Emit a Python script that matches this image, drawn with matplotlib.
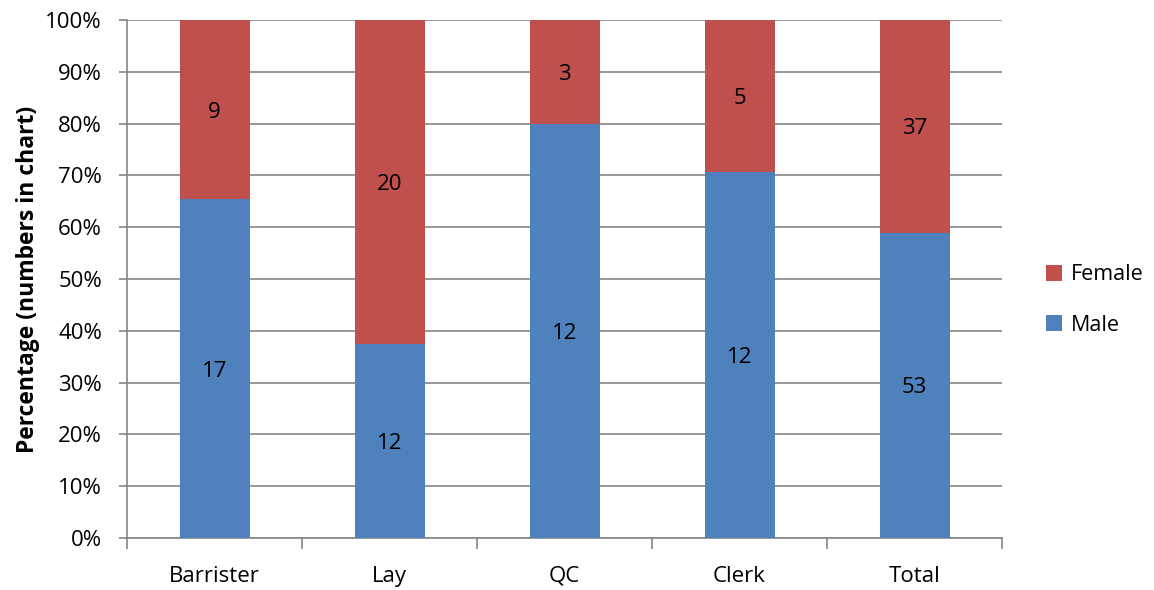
import matplotlib
matplotlib.use("Agg")
import matplotlib.pyplot as plt
from matplotlib.patches import Patch
import numpy as np

categories = ["Barrister", "Lay", "QC", "Clerk", "Total"]
male = [17, 12, 12, 12, 53]
female = [9, 20, 3, 5, 37]
y_ticks = [0, 10, 20, 30, 40, 50, 60, 70, 80, 90, 100]

plt.rcParams["font.family"] = ["Open Sans", "DejaVu Sans"]

male_c = "#4F81BD"
female_c = "#C0504D"
grid_c = "#868686"
fs = 16

fig = plt.figure(figsize=(11.54, 5.90), dpi=100)
ax = fig.add_axes([127 / 1154, 52 / 590, 875 / 1154, 518 / 590])

x = np.arange(len(categories))
m = np.array(male, dtype=float)
f = np.array(female, dtype=float)
tot = m + f
m_pct = m / tot * 100
f_pct = f / tot * 100

ax.bar(x, m_pct, width=0.4, color=male_c, zorder=3)
ax.bar(x, f_pct, width=0.4, bottom=m_pct, color=female_c, zorder=3)

for i in range(len(categories)):
    ax.text(x[i], m_pct[i] / 2, str(male[i]), ha="center", va="center_baseline",
            fontsize=fs, color="black", zorder=4)
    ax.text(x[i], m_pct[i] + f_pct[i] / 2, str(female[i]), ha="center",
            va="center_baseline", fontsize=fs, color="black", zorder=4)

ax.set_xlim(-0.5, len(categories) - 0.5)
ax.set_ylim(0, 100)
ax.set_yticks(y_ticks)
ax.set_yticklabels([f"{v}%" for v in y_ticks], fontsize=fs)
ax.yaxis.grid(True, color=grid_c, linewidth=1.2, zorder=0)

# category labels centred under bars, tick marks between categories
ax.set_xticks(x)
ax.set_xticklabels(categories, fontsize=fs)
ax.tick_params(axis="x", length=0, pad=20)
ax.set_xticks(np.arange(-0.5, len(categories)), minor=True)
ax.tick_params(axis="x", which="minor", length=8, width=1.2, color=grid_c, direction="out")
ax.tick_params(axis="y", length=6, width=1.2, color=grid_c, direction="out", pad=12)

for side in ["top", "right"]:
    ax.spines[side].set_visible(False)
for side in ["left", "bottom"]:
    ax.spines[side].set_color(grid_c)
    ax.spines[side].set_linewidth(1.2)

ax.set_ylabel("Percentage (numbers in chart)", fontsize=16.5, fontweight="bold", labelpad=4)

handles = [Patch(facecolor=female_c), Patch(facecolor=male_c)]
fig.legend(handles, ["Female", "Male"], loc="center left",
           bbox_to_anchor=(1031 / 1154, 290 / 590), frameon=False,
           fontsize=15.5, handlelength=0.75, handleheight=0.75,
           handletextpad=0.4, labelspacing=1.35, borderpad=0.2)

fig.savefig("out.png", dpi=100)
